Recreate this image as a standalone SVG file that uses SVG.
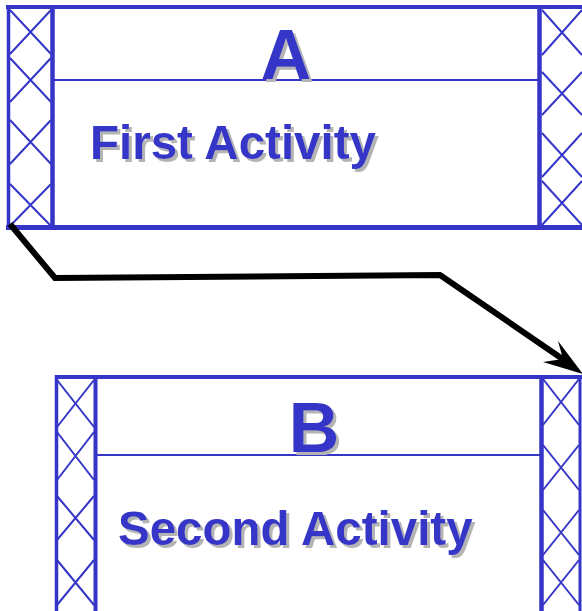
<svg xmlns="http://www.w3.org/2000/svg" width="582" height="611" viewBox="0 0 582 611">
<defs>
<filter id="sh" x="-10%" y="-10%" width="130%" height="140%">
<feFlood flood-color="#b4b4b4" result="c"/>
<feComposite in="c" in2="SourceAlpha" operator="in" result="g"/>
<feOffset in="g" dx="3" dy="3" result="o"/>
<feMerge><feMergeNode in="o"/><feMergeNode in="SourceGraphic"/></feMerge>
</filter>
</defs>
<style>
.b{stroke:#3535c8;fill:none}
.hatch{stroke:#3535c8;stroke-width:2;fill:none}
.t{font-family:"Liberation Sans",Arial,sans-serif;font-weight:bold;fill:#3535c8;filter:url(#sh)}
.conn{stroke:#000;stroke-width:6;fill:none;stroke-linejoin:miter}
</style>
<rect width="582" height="611" fill="#fff"/>
<g id="nodeA">
<path class="hatch" d="M10,10 L51,54 M51,10 L10,54 M10,58 L51,102 M51,58 L10,102 M10,120 L51,164 M51,120 L10,164 M10,184 L51,226 M51,184 L10,226"/>
<path class="hatch" d="M542,10 L582,55 M582,10 L542,55 M542,72 L582,115 M582,72 L542,115 M542,133 L582,177 M582,133 L542,177 M542,181 L582,225 M582,181 L542,225"/>
<line class="b" x1="6" y1="7" x2="582" y2="7" stroke-width="4"/>
<line class="b" x1="8.5" y1="5" x2="8.5" y2="229" stroke-width="3.5"/>
<line class="b" x1="52.5" y1="7" x2="52.5" y2="228" stroke-width="4.5"/>
<line class="b" x1="539.5" y1="7" x2="539.5" y2="228" stroke-width="4.5"/>
<line class="b" x1="6" y1="227.5" x2="582" y2="227.5" stroke-width="5"/>
<line class="b" x1="52" y1="80" x2="540" y2="80" stroke-width="2"/>
<text class="t" x="286" y="79" font-size="70" text-anchor="middle">A</text>
<text class="t" x="90" y="159" font-size="47.5">First Activity</text>
</g>
<g id="nodeB">
<path class="hatch" d="M57,380 L94,427 M94,380 L57,427 M57,432 L94,480 M94,432 L57,480 M57,496 L94,540 M94,496 L57,540 M57,560 L94,605 M94,560 L57,605"/>
<path class="hatch" d="M543,379 L579,425 M579,379 L543,425 M543,445 L579,490 M579,445 L543,490 M543,510 L579,555 M579,510 L543,555 M543,560 L579,605 M579,560 L543,605"/>
<line class="b" x1="55" y1="377" x2="582" y2="377" stroke-width="4"/>
<line class="b" x1="56.5" y1="375" x2="56.5" y2="611" stroke-width="3.5"/>
<line class="b" x1="95.5" y1="377" x2="95.5" y2="611" stroke-width="4"/>
<line class="b" x1="541.5" y1="377" x2="541.5" y2="611" stroke-width="4.5"/>
<line class="b" x1="580" y1="377" x2="580" y2="611" stroke-width="3"/>
<line class="b" x1="95" y1="455" x2="541" y2="455" stroke-width="2"/>
<text class="t" x="314" y="452" font-size="70" text-anchor="middle">B</text>
<text class="t" x="118" y="545" font-size="47.5">Second Activity</text>
</g>
<g id="connectors">
<path class="conn" d="M10,224 L55,278 L440,275 L564,360"/>
<path d="M583,374 L558,341 L563,359 L543,362 Z" fill="#000"/>
</g>
</svg>
